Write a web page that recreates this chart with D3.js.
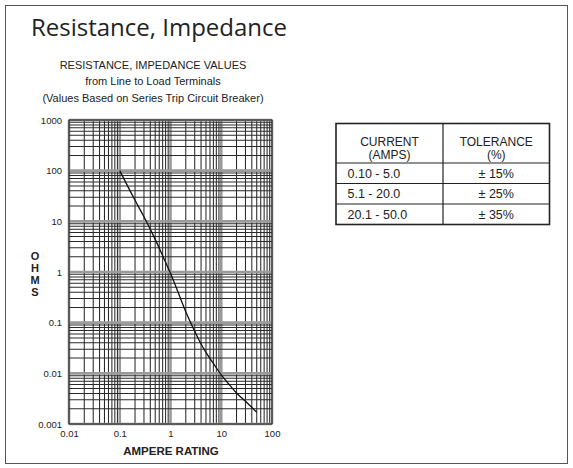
<!DOCTYPE html>
<html>
<head>
<meta charset="utf-8">
<script src="https://cdn.jsdelivr.net/npm/d3@7"></script>
<style>
  html, body { margin: 0; padding: 0; background: #fff; }
  svg { display: block; }
</style>
</head>
<body>
<svg id="chart" width="573" height="468"></svg>
<script>
// Resistance / impedance curve, line to load terminals
const ampereRating = [0.1, 0.2, 0.3, 0.5, 0.7, 1, 1.5, 2, 3, 4, 5, 7, 10, 15, 20, 30, 50];
const ohms = [100, 26, 12.3, 4.4, 2.1, 0.94, 0.34, 0.165, 0.068, 0.038, 0.026, 0.0157, 0.0093, 0.0057, 0.0041, 0.0028, 0.0017];

// Axis tick labels (decades)
const xTickValues = [0.01, 0.1, 1, 10, 100];
const xTickLabels = ["0.01", "0.1", "1", "10", "100"];
const yTickValues = [1000, 100, 10, 1, 0.1, 0.01, 0.001];
const yTickLabels = ["1000", "100", "10", "1", "0.1", "0.01", "0.001"];

// Tolerance table
const tableHeaders = [["CURRENT", "(AMPS)"], ["TOLERANCE", "(%)"]];
const currentRanges = ["0.10 - 5.0", "5.1 - 20.0", "20.1 - 50.0"];
const tolerances = ["± 15%", "± 25%", "± 35%"];

const svg = d3.select("#chart");
const sans = "'Liberation Sans', Arial, Helvetica, sans-serif";

// Frame
svg.append("rect")
  .attr("x", 5.5).attr("y", 5.5).attr("width", 562).attr("height", 458)
  .attr("fill", "none").attr("stroke", "#555").attr("stroke-width", 1);

// Title
svg.append("text")
  .attr("x", 31).attr("y", 36)
  .attr("font-family", "'Open Sans', 'Noto Sans', sans-serif")
  .attr("font-size", 24).attr("fill", "#222")
  .text("Resistance, Impedance");

// Subtitle
const subLines = ["RESISTANCE, IMPEDANCE VALUES", "from Line to Load Terminals", "(Values Based on Series Trip Circuit Breaker)"];
svg.append("g").selectAll("text").data(subLines).join("text")
  .attr("x", 153).attr("y", (d, i) => 68.5 + i * 16.6)
  .attr("text-anchor", "middle")
  .attr("font-family", sans).attr("font-size", 11).attr("fill", "#222")
  .text(d => d);

// Scales
const x = d3.scaleLog().domain([0.01, 100]).range([69, 272]);
const y = d3.scaleLog().domain([0.001, 1000]).range([424, 120]);

const plot = svg.append("g");

const isDecade = v => Math.abs(Math.log10(v) - Math.round(Math.log10(v))) < 1e-9;

// Grid: every 1..9 multiple per decade
plot.append("g").selectAll("line").data(x.ticks()).join("line")
  .attr("x1", d => x(d)).attr("x2", d => x(d))
  .attr("y1", y.range()[1]).attr("y2", y.range()[0])
  .attr("stroke", d => isDecade(d) ? "#9a9a9a" : "#2a2a2a")
  .attr("stroke-width", d => isDecade(d) ? 2.6 : 1.05);

plot.append("g").selectAll("line").data(y.ticks()).join("line")
  .attr("y1", d => y(d)).attr("y2", d => y(d))
  .attr("x1", x.range()[0]).attr("x2", x.range()[1])
  .attr("stroke", d => isDecade(d) ? "#9a9a9a" : "#2a2a2a")
  .attr("stroke-width", d => isDecade(d) ? 2.6 : 1.05);

// Plot border
plot.append("rect")
  .attr("x", x.range()[0]).attr("y", y.range()[1])
  .attr("width", x.range()[1] - x.range()[0]).attr("height", y.range()[0] - y.range()[1])
  .attr("fill", "none").attr("stroke", "#333").attr("stroke-width", 1.2);

// Axes (labels only)
const xAxis = d3.axisBottom(x).tickValues(xTickValues)
  .tickFormat((d, i) => xTickLabels[i]).tickSize(0).tickPadding(6);
const gx = svg.append("g").attr("transform", `translate(0,${y.range()[0]})`).call(xAxis);
gx.select(".domain").remove();
gx.selectAll("text").attr("font-family", sans).attr("font-size", 9.5).attr("fill", "#222");

const yAxis = d3.axisLeft(y).tickValues(yTickValues)
  .tickFormat((d, i) => yTickLabels[i]).tickSize(0).tickPadding(7);
const gy = svg.append("g").attr("transform", `translate(${x.range()[0]},0)`).call(yAxis);
gy.select(".domain").remove();
gy.selectAll("text").attr("font-family", sans).attr("font-size", 9.5).attr("fill", "#222");

// Curve
const line = d3.line()
  .x((d, i) => x(ampereRating[i]))
  .y(d => y(d))
  .curve(d3.curveMonotoneX);
plot.append("path")
  .datum(ohms)
  .attr("d", line)
  .attr("fill", "none").attr("stroke", "#111").attr("stroke-width", 1.3);

// Axis titles
svg.append("text")
  .attr("x", 171).attr("y", 455)
  .attr("text-anchor", "middle")
  .attr("font-family", sans).attr("font-size", 11.5).attr("font-weight", "bold").attr("fill", "#222")
  .text("AMPERE RATING");

svg.append("g").selectAll("text").data("OHMS".split("")).join("text")
  .attr("x", 35).attr("y", (d, i) => 259.5 + i * 12)
  .attr("text-anchor", "middle")
  .attr("font-family", sans).attr("font-size", 11).attr("font-weight", "bold").attr("fill", "#222")
  .text(d => d);

// Tolerance table
const tX = [336, 443, 549.5];
const tY = [123.5, 163, 183.5, 204, 224.5];
const table = svg.append("g");

table.append("rect")
  .attr("x", tX[0]).attr("y", tY[0])
  .attr("width", tX[2] - tX[0]).attr("height", tY[4] - tY[0])
  .attr("fill", "none").attr("stroke", "#222").attr("stroke-width", 1.6);

table.append("line")
  .attr("x1", tX[1]).attr("x2", tX[1]).attr("y1", tY[0]).attr("y2", tY[4])
  .attr("stroke", "#222").attr("stroke-width", 1.2);

table.append("g").selectAll("line").data(tY.slice(1, 4)).join("line")
  .attr("x1", tX[0]).attr("x2", tX[2]).attr("y1", d => d).attr("y2", d => d)
  .attr("stroke", "#222").attr("stroke-width", 1.2);

tableHeaders.forEach((h, c) => {
  table.append("g").selectAll("text").data(h).join("text")
    .attr("x", (tX[c] + tX[c + 1]) / 2)
    .attr("y", (d, i) => 145.5 + i * 13.5)
    .attr("text-anchor", "middle")
    .attr("font-family", sans).attr("font-size", 12).attr("fill", "#222")
    .text(d => d);
});

table.append("g").selectAll("text").data(currentRanges).join("text")
  .attr("x", 347.5)
  .attr("y", (d, i) => (tY[i + 1] + tY[i + 2]) / 2 + 4.5)
  .attr("font-family", sans).attr("font-size", 12.5).attr("fill", "#222")
  .text(d => d);

table.append("g").selectAll("text").data(tolerances).join("text")
  .attr("x", (tX[1] + tX[2]) / 2)
  .attr("y", (d, i) => (tY[i + 1] + tY[i + 2]) / 2 + 4.5)
  .attr("text-anchor", "middle")
  .attr("font-family", sans).attr("font-size", 12.5).attr("fill", "#222")
  .text(d => d);
</script>
</body>
</html>
